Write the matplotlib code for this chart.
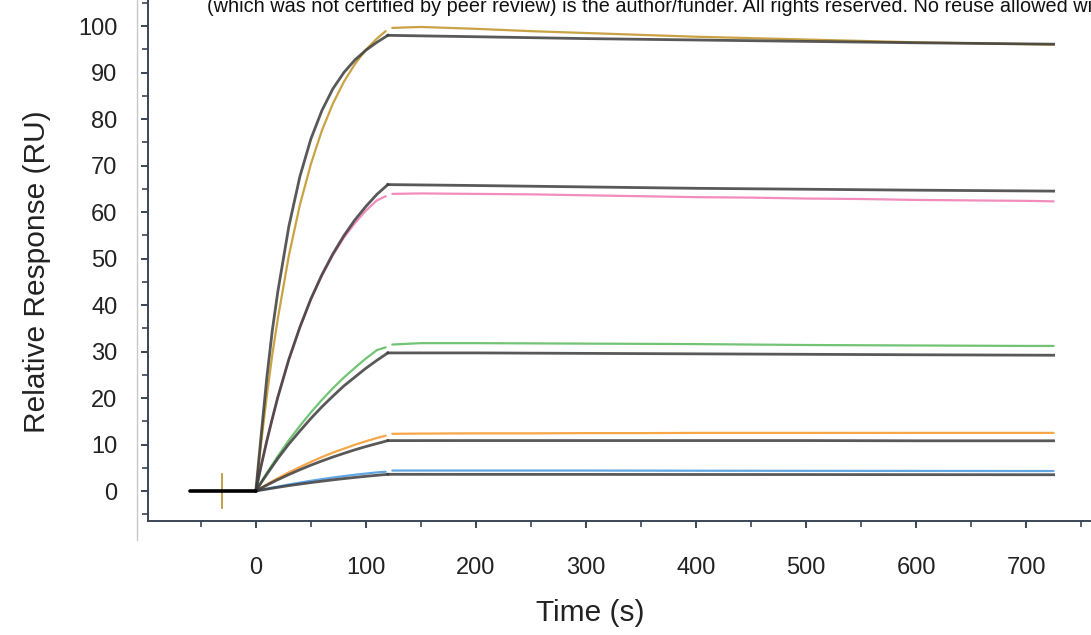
import matplotlib
matplotlib.use("Agg")
import matplotlib.pyplot as plt
from matplotlib.ticker import MultipleLocator
from matplotlib.lines import Line2D

# ---------------- data ----------------
t_base = [-60, 0]
r_base = [0, 0]

t_assoc = [0, 5, 10, 15, 20, 30, 40, 50, 60, 70, 80, 90, 100, 110, 120]
t_assoc_data = [0, 5, 10, 15, 20, 30, 40, 50, 60, 70, 80, 90, 100, 110, 118]
t_dissoc_data = [124, 150, 200, 250, 300, 350, 400, 450, 500, 550, 600, 650, 700, 725]
t_dissoc_fit = [120, 200, 300, 400, 500, 600, 725]

# series 1 (gold)
gold_assoc = [0, 10.7, 20.5, 29.4, 37.1, 50.6, 61.5, 70.3, 77.5, 83.3, 88.0, 91.8, 94.9, 97.3, 98.9]
gold_dissoc = [99.6, 99.8, 99.4, 98.9, 98.5, 98.1, 97.7, 97.4, 97.1, 96.8, 96.5, 96.3, 96.1, 96.0]
fit1_assoc = [0, 12.4, 24.4, 34.6, 42.9, 56.9, 67.6, 75.7, 81.8, 86.5, 90.0, 92.7, 94.8, 96.5, 98.0]
fit1_dissoc = [98.0, 97.7, 97.3, 97.0, 96.7, 96.4, 96.1]

# series 2 (pink)
pink_assoc = [0, 5.6, 10.8, 15.6, 20.2, 28.3, 35.2, 41.2, 46.3, 50.7, 54.5, 57.6, 60.3, 62.5, 63.4]
pink_dissoc = [63.9, 64.0, 63.9, 63.8, 63.6, 63.4, 63.2, 63.1, 62.9, 62.8, 62.6, 62.5, 62.4, 62.3]
fit2_assoc = [0, 5.6, 10.8, 15.6, 20.2, 28.3, 35.2, 41.3, 46.5, 51.0, 54.9, 58.3, 61.2, 63.8, 65.9]
fit2_dissoc = [65.9, 65.7, 65.4, 65.1, 64.9, 64.7, 64.5]

# series 3 (green)
green_assoc = [0, 2.0, 3.9, 5.7, 7.5, 10.9, 14.0, 16.9, 19.6, 22.1, 24.4, 26.5, 28.5, 30.3, 30.9]
green_dissoc = [31.5, 31.8, 31.8, 31.75, 31.7, 31.65, 31.6, 31.5, 31.4, 31.35, 31.3, 31.25, 31.2, 31.2]
fit3_assoc = [0, 1.84, 3.6, 5.3, 7.0, 10.1, 12.9, 15.6, 18.1, 20.4, 22.6, 24.5, 26.4, 28.1, 29.7]
fit3_dissoc = [29.7, 29.7, 29.6, 29.5, 29.4, 29.3, 29.2]

# series 4 (orange)
orange_assoc = [0, 0.7, 1.4, 2.1, 2.75, 4.0, 5.15, 6.25, 7.3, 8.25, 9.1, 9.95, 10.7, 11.4, 11.9]
orange_dissoc = [12.3, 12.35, 12.4, 12.4, 12.45, 12.45, 12.5, 12.5, 12.5, 12.5, 12.5, 12.5, 12.5, 12.5]
fit4_assoc = [0, 0.64, 1.26, 1.86, 2.44, 3.54, 4.58, 5.55, 6.46, 7.31, 8.10, 8.86, 9.56, 10.2, 10.84]
fit4_dissoc = [10.84, 10.85, 10.85, 10.85, 10.85, 10.8, 10.8]

# series 5 (blue)
blue_assoc = [0, 0.25, 0.5, 0.73, 0.95, 1.4, 1.8, 2.2, 2.55, 2.9, 3.2, 3.5, 3.75, 4.0, 4.15]
blue_dissoc = [4.4, 4.4, 4.4, 4.4, 4.4, 4.38, 4.36, 4.35, 4.34, 4.33, 4.32, 4.31, 4.3, 4.3]
fit5_assoc = [0, 0.21, 0.41, 0.6, 0.79, 1.16, 1.49, 1.81, 2.11, 2.40, 2.67, 2.92, 3.16, 3.38, 3.59]
fit5_dissoc = [3.59, 3.58, 3.57, 3.55, 3.54, 3.52, 3.5]

spike_t = [-31, -31]
spike_r = [-3.6, 3.6]

x_ticks = [0, 100, 200, 300, 400, 500, 600, 700]
y_ticks = [0, 10, 20, 30, 40, 50, 60, 70, 80, 90, 100]

xlabel = "Time (s)"
ylabel = "Relative Response (RU)"
header = ("(which was not certified by peer review) is the author/funder. "
          "All rights reserved. No reuse allowed without permission.")
header_visible = ("(which was not certified by peer review) is the author/funder. "
                  "All rights reserved. No reuse allowed w")

# ---------------- styling ----------------
plt.rcParams['font.family'] = ['Liberation Sans', 'DejaVu Sans']
W, H = 1091, 635
fig = plt.figure(figsize=(W / 100, H / 100), dpi=100)

left_px, bottom_px = 148, 521
ax = fig.add_axes([left_px / W, 1 - bottom_px / H, 1 - left_px / W, bottom_px / H])
ax.set_xlim(-98, 759)
ax.set_ylim(-6.45, 105.6)

spine_c = '#3a4656'
for s in ['top', 'right']:
    ax.spines[s].set_visible(False)
for s in ['left', 'bottom']:
    ax.spines[s].set_color(spine_c)
    ax.spines[s].set_linewidth(1.4)

ax.set_xticks(x_ticks)
ax.set_yticks(y_ticks)
ax.xaxis.set_minor_locator(MultipleLocator(50))
ax.yaxis.set_minor_locator(MultipleLocator(5))
ax.tick_params(axis='both', which='major', direction='out', length=5, width=1.4,
               color=spine_c, labelsize=17, labelcolor='#222222')
ax.tick_params(axis='both', which='minor', direction='out', length=4, width=1.2,
               color=spine_c)
ax.tick_params(axis='y', which='major', pad=17)
ax.tick_params(axis='x', which='major', pad=21)

ax.set_xlabel(xlabel, fontsize=21.5, color='#222222')
ax.set_ylabel(ylabel, fontsize=21.5, color='#222222')
ax.xaxis.set_label_coords(0.469, -0.150)
ax.yaxis.set_label_coords(-0.103, 0.478)

c_gold = '#c9a244'
c_pink = '#f28cbc'
c_green = '#72c474'
c_orange = '#f7a648'
c_blue = '#62a6e2'
c_fit = '#3c3c3c'

data_series = [
    (gold_assoc, gold_dissoc, c_gold),
    (pink_assoc, pink_dissoc, c_pink),
    (green_assoc, green_dissoc, c_green),
    (orange_assoc, orange_dissoc, c_orange),
    (blue_assoc, blue_dissoc, c_blue),
]
fit_series = [
    (fit1_assoc, fit1_dissoc),
    (fit2_assoc, fit2_dissoc),
    (fit3_assoc, fit3_dissoc),
    (fit4_assoc, fit4_dissoc),
    (fit5_assoc, fit5_dissoc),
]

for a, d, c in data_series:
    ax.plot(t_assoc_data, a, color=c, lw=1.6, solid_capstyle='round', zorder=2)
    ax.plot(t_dissoc_data, d, color=c, lw=1.6, solid_capstyle='round', zorder=2)

for a, d in fit_series:
    ax.plot(t_assoc, a, color=c_fit, lw=2.0, alpha=0.85, zorder=3)
    ax.plot(t_dissoc_fit, d, color=c_fit, lw=2.0, alpha=0.85, zorder=3)

ax.plot(spike_t, spike_r, color='#b89a40', lw=1.3, zorder=2)
ax.plot(t_base, r_base, color='black', lw=2.6, solid_capstyle='round', zorder=4)

# thin grey boundary line left of the axis
fig.add_artist(Line2D([137 / W, 137 / W], [1 - 540 / H, 1.0], color='#c8c8c8', lw=1.0))

# header text (cut off at the right edge as in the source image)
fam = ['Liberation Sans Narrow', 'Liberation Sans', 'DejaVu Sans']
htxt = fig.text(207 / W, 1 + 3 / H, header, ha='left', va='top', fontsize=14,
                family=fam, color='#111111')
probe = fig.text(0, 0, header_visible, fontsize=14, family=fam)
fig.canvas.draw()
wpx = probe.get_window_extent().width
probe.remove()
htxt.set_fontsize(14 * (W - 207) / wpx)

fig.savefig('out.png', dpi=100)
